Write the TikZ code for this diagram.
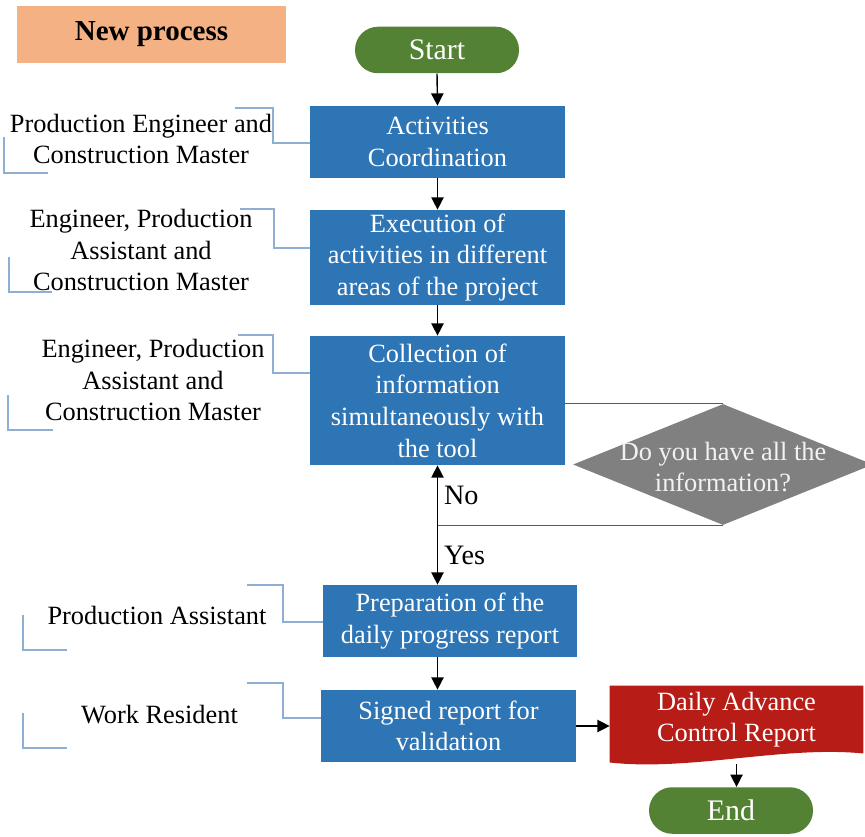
\documentclass[tikz,border=0pt]{standalone}
\usepackage{fontspec}
\setmainfont{Liberation Serif}
\usetikzlibrary{shapes,arrows.meta,positioning,calc,backgrounds}
\definecolor{procblue}{RGB}{46,117,182}
\definecolor{termgreen}{RGB}{84,130,53}
\definecolor{decgray}{RGB}{128,128,128}
\definecolor{repred}{RGB}{184,28,22}
\definecolor{peach}{RGB}{244,177,131}
\definecolor{leaderblue}{RGB}{143,175,210}
\tikzset{
    block/.style  = {rectangle, fill=procblue, text=white, align=center, inner sep=1pt,
                     minimum width=5.1cm, font=\fontsize{15}{18}\selectfont},
    term/.style   = {rectangle, rounded corners=0.46cm, fill=termgreen, text=white,
                     minimum width=3.28cm, minimum height=0.93cm, font=\fontsize{17}{20}\selectfont},
    note/.style   = {align=center, text=black, font=\fontsize{15}{18}\selectfont},
    leader/.style = {draw=leaderblue, line width=0.7pt},
    arr/.style    = {->, >={Triangle[length=7pt,width=7pt]}, line width=0.8pt, draw=black},
    link/.style   = {line width=0.8pt, draw=black!65}
}

\begin{document}
\begin{tikzpicture}
    \useasboundingbox (0,0) rectangle (17.3,-16.72);
    \clip (0,0) rectangle (17.3,-16.72);

    % Title tag
    \node[fill=peach, minimum width=5.38cm, minimum height=1.14cm,
          font=\bfseries\fontsize{16.5}{19}\selectfont] (newp) at (3.03,-0.69) {New process};

    % Main column
    \node[term] (start) at (8.74,-1.0) {Start};
    \node[block, minimum height=1.44cm] (act) at (8.75,-2.84) {Activities\\Coordination};
    \node[block, minimum height=1.9cm] (exe) at (8.75,-5.15) {Execution of\\activities in different\\areas of the project};
    \node[block, minimum height=2.58cm] (col) at (8.75,-8.01) {Collection of\\information\\simultaneously with\\the tool};
    \node[block, minimum width=5.08cm, minimum height=1.44cm] (pre) at (9.0,-12.42) {Preparation of the\\daily progress report};
    \node[block, minimum height=1.44cm] (sig) at (8.97,-14.52) {Signed report for\\validation};

    % Decision
    \node[diamond, fill=decgray, minimum width=6cm, minimum height=2.42cm, inner sep=0pt] (dec) at (14.46,-9.29) {};
    \node[note, text=white!95!black] (decq) at (14.46,-9.34) {Do you have all the\\information?};

    % Report document
    \node[note, text=white, minimum width=5.06cm, minimum height=1.1cm] (rep) at (14.73,-14.39) {Daily Advance\\Control Report};
    \begin{scope}[on background layer]
        \fill[repred] (rep.north west) -- (rep.north east) -- (rep.south east)
            .. controls ([xshift=-1.6cm,yshift=0.16cm]rep.south east) and ([xshift=1.6cm,yshift=-0.36cm]rep.south west)
            .. ([yshift=-0.18cm]rep.south west) -- cycle;
    \end{scope}
    \node[term] (end) at (14.62,-16.21) {End};

    % Flow
    \draw[arr] (start.south) -- (act.north);
    \draw[arr] (act) -- (exe);
    \draw[arr] (exe) -- (col);
    \draw[link] (col.east |- dec.north) -- (dec.north);
    \coordinate (junc) at (col.south |- dec.south);
    \draw[link] (dec.south) -- (junc);
    \draw[arr] (junc) -- node[right, font=\fontsize{16}{19}\selectfont] {No} (col.south);
    \draw[arr] (junc) -- node[right, font=\fontsize{16}{19}\selectfont] {Yes} (junc |- pre.north);
    \draw[arr] (pre.south -| act.south) -- (sig.north -| act.south);
    \draw[arr] (sig.east) -- (sig.east -| rep.west);
    \draw[arr] ([yshift=-0.22cm]rep.south) -- (rep.south |- end.north);

    % Responsible roles
    \node[note] (n1) at (2.82,-2.78) {Production Engineer and\\Construction Master};
    \draw[leader] (4.70,-2.16) -| (5.46,-2.86) -- (act.west |- 0,-2.86);
    \draw[leader] (0.08,-2.74) |- (0.96,-3.46);

    \node[note] (n2) at (2.82,-5.0) {Engineer, Production\\Assistant and\\Construction Master};
    \draw[leader] (4.80,-4.18) -| (5.48,-4.96) -- (exe.west |- 0,-4.96);
    \draw[leader] (0.18,-5.14) |- (1.04,-5.84);

    \node[note] (n3) at (3.06,-7.6) {Engineer, Production\\Assistant and\\Construction Master};
    \draw[leader] (4.76,-6.70) -| (5.46,-7.46) -- (col.west |- 0,-7.46);
    \draw[leader] (0.16,-7.90) |- (1.06,-8.60);

    \node[note] (n4) at (3.14,-12.3) {Production Assistant};
    \draw[leader] (4.94,-11.70) -| (5.66,-12.44) -- (pre.west |- 0,-12.44);
    \draw[leader] (0.46,-12.30) |- (1.34,-13.00);

    \node[note] (n5) at (3.19,-14.3) {Work Resident};
    \draw[leader] (4.94,-13.66) -| (5.66,-14.36) -- (sig.west |- 0,-14.36);
    \draw[leader] (0.46,-14.26) |- (1.34,-14.96);
\end{tikzpicture}
\end{document}
